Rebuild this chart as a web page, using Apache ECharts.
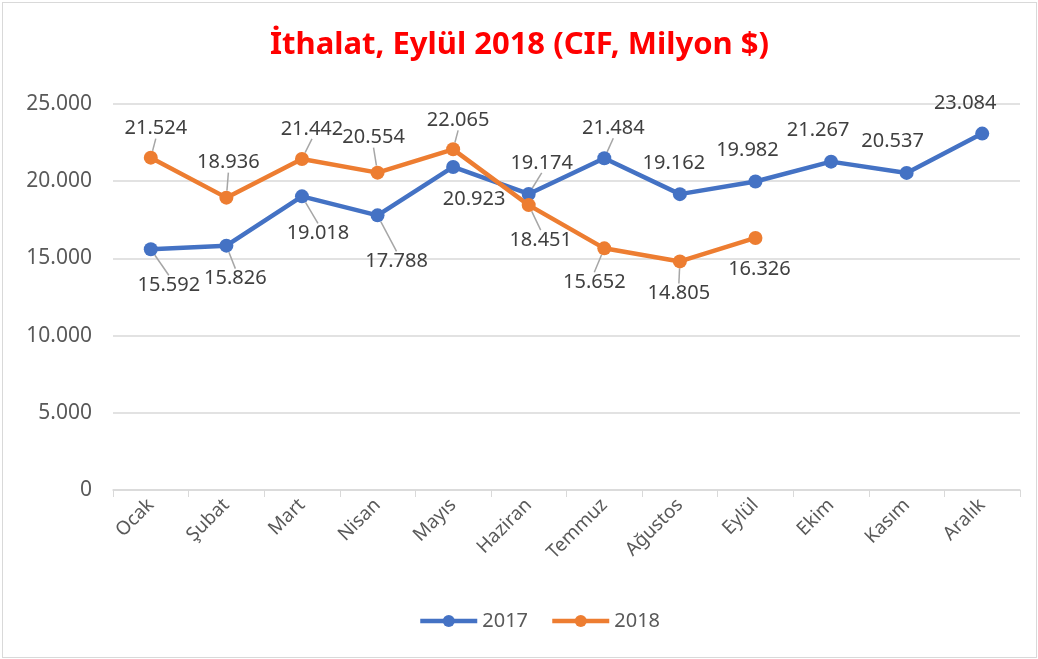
<!DOCTYPE html>
<html>
<head>
<meta charset="utf-8">
<script src="https://cdn.jsdelivr.net/npm/echarts@6/dist/echarts.min.js"></script>
<style>
  html, body { margin: 0; padding: 0; background: #fff; }
  #chart { position: absolute; left: 2px; top: 2px; width: 1033px; height: 654px; border: 1px solid #d9d9d9; }
</style>
</head>
<body>
<div id="chart"></div>
<script>
const months = ['Ocak', 'Şubat', 'Mart', 'Nisan', 'Mayıs', 'Haziran', 'Temmuz', 'Ağustos', 'Eylül', 'Ekim', 'Kasım', 'Aralık'];
const values2017 = [15592, 15826, 19018, 17788, 20923, 19174, 21484, 19162, 19982, 21267, 20537, 23084];
const values2018 = [21524, 18936, 21442, 20554, 22065, 18451, 15652, 14805, 16326];

// label offsets from the point, in px, and whether a leader line is drawn
const offsets2017 = [[18, 36], [9, 33], [16, 37], [19, 46], [21, 32], [13, -31], [9, -30], [-6, -31], [-8, -31], [-13, -31], [-14, -32], [-17, -30]];
const leaders2017 = [true, true, true, true, false, true, true, false, false, false, false, false];
const offsets2018 = [[5, -29], [2, -35], [10, -30], [-4, -35], [5, -29], [12, 35], [-10, 34], [-1, 32], [4, 31]];
const leaders2018 = [true, true, true, true, true, true, true, true, false];

const fmt = v => String(v).replace(/\B(?=(\d{3})+(?!\d))/g, '.');
const font = 'Noto Sans';

function makeData(values, leaders) {
  return values.map((v, i) => ({ value: v, labelLine: { show: leaders[i] } }));
}

function makeSeries(name, values, offsets, leaders, color) {
  return {
    name: name,
    type: 'line',
    data: makeData(values, leaders),
    symbol: 'circle',
    symbolSize: 14,
    lineStyle: { width: 4.5, color: color },
    itemStyle: { color: color },
    label: {
      show: true,
      position: 'inside',
      fontFamily: font,
      fontSize: 20,
      color: '#404040',
      formatter: p => fmt(p.value)
    },
    labelLine: {
      show: true,
      lineStyle: { color: '#a6a6a6', width: 1.5 }
    },
    labelLayout: p => ({ dx: offsets[p.dataIndex][0], dy: offsets[p.dataIndex][1] }),
    emphasis: { disabled: true }
  };
}

const chart = echarts.init(document.getElementById('chart'));
chart.setOption({
  animation: false,
  title: {
    text: 'İthalat, Eylül 2018 (CIF, Milyon $)',
    left: 'center',
    top: 22,
    textStyle: { fontFamily: font, fontSize: 31, fontWeight: 'bold', color: '#ff0000' }
  },
  legend: {
    bottom: 21,
    left: 410,
    itemWidth: 57,
    itemHeight: 15,
    itemGap: 22,
    lineStyle: { width: 4.5 },
    textStyle: { fontFamily: font, fontSize: 20, color: '#595959' },
    data: ['2017', '2018']
  },
  grid: { left: 110, right: 16, top: 101, bottom: 167 },
  xAxis: {
    type: 'category',
    data: months,
    boundaryGap: true,
    axisLine: { lineStyle: { color: '#d9d9d9', width: 1.5 } },
    axisTick: { show: true, length: 7, lineStyle: { color: '#d9d9d9' } },
    axisLabel: { rotate: 45, fontFamily: font, fontSize: 19, color: '#595959', margin: 12, interval: 0 }
  },
  yAxis: {
    type: 'value',
    min: 0,
    max: 25000,
    interval: 5000,
    axisLine: { show: false },
    axisTick: { show: false },
    splitLine: { lineStyle: { color: '#d9d9d9', width: 1.5 } },
    axisLabel: { fontFamily: font, fontSize: 21, color: '#595959', margin: 21, formatter: v => fmt(v) }
  },
  series: [
    makeSeries('2017', values2017, offsets2017, leaders2017, '#4472c4'),
    makeSeries('2018', values2018, offsets2018, leaders2018, '#ed7d31')
  ]
});
</script>
</body>
</html>
